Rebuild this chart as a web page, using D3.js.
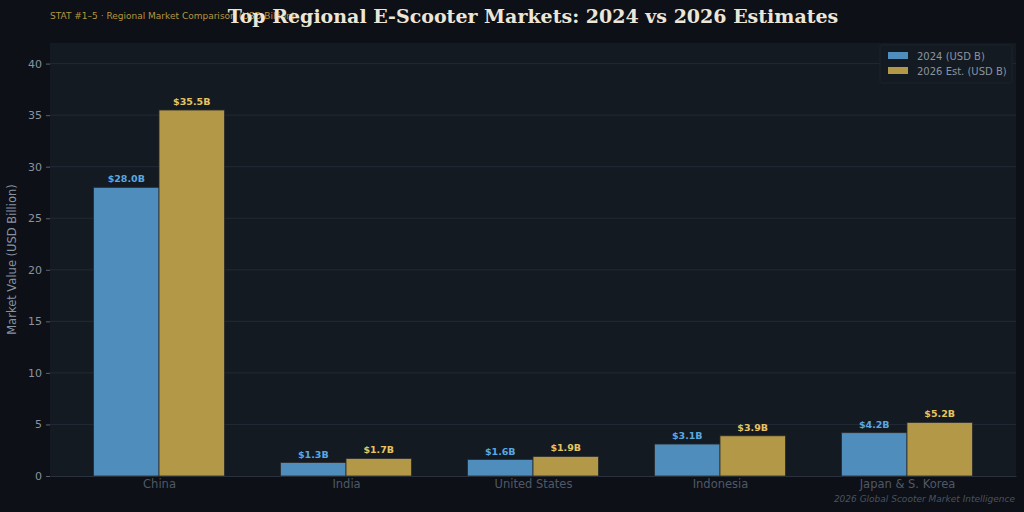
<!DOCTYPE html>
<html>
<head>
<meta charset="utf-8">
<script src="https://cdn.jsdelivr.net/npm/d3@7"></script>
<style>
  html, body { margin: 0; padding: 0; background: #0d1017; }
  svg { display: block; }
</style>
</head>
<body>
<script>
"use strict";
// chart data
const regions = ["China", "India", "United States", "Indonesia", "Japan & S. Korea"];
const values2024 = [28.0, 1.3, 1.6, 3.1, 4.2];
const values2026 = [35.5, 1.7, 1.9, 3.9, 5.2];
const seriesNames = ["2024 (USD B)", "2026 Est. (USD B)"];
const yTicks = [0, 5, 10, 15, 20, 25, 30, 35, 40];

const W = 1024, H = 512;
const plot = {left: 50, right: 1016, top: 43, bottom: 476};

const svg = d3.select("body").append("svg")
    .attr("width", W)
    .attr("height", H);

svg.append("rect").attr("width", W).attr("height", H).attr("fill", "#0d1017");
svg.append("rect")
    .attr("x", plot.left).attr("y", plot.top)
    .attr("width", plot.right - plot.left)
    .attr("height", plot.bottom - plot.top)
    .attr("fill", "#141a22");

let x = d3.scaleLinear().domain([-0.583, 4.583]).range([plot.left, plot.right]);
let y = d3.scaleLinear().domain([0, 42]).range([plot.bottom, plot.top]);
const barW = x(0.35) - x(0);

// grid
svg.append("g").selectAll("line")
    .data(yTicks.slice(1))
    .enter().append("line")
    .attr("x1", plot.left).attr("x2", plot.right)
    .attr("y1", d => y(d)).attr("y2", d => y(d))
    .attr("stroke", "#222a35").attr("stroke-width", 1);

// y axis
let yAxis = d3.axisLeft(y).tickValues(yTicks).tickSize(4).tickPadding(4);
let gy = svg.append("g").attr("transform", `translate(${plot.left},0)`).call(yAxis);
gy.select(".domain").remove();
gy.selectAll("line").attr("stroke", "#5a6270");
gy.selectAll("text").attr("fill", "#8a93a0")
    .style("font-family", "DejaVu Sans").style("font-size", "11px");

// x axis
let xAxis = d3.axisBottom(x).tickValues(d3.range(regions.length))
    .tickFormat(i => regions[i]).tickSize(0).tickPadding(4);
let gx = svg.append("g").attr("transform", `translate(0,${plot.bottom})`).call(xAxis);
gx.select(".domain").attr("stroke", "#2a313c");
gx.selectAll("text").attr("fill", "#505866")
    .style("font-family", "DejaVu Sans").style("font-size", "11.5px");

// bars
const series = [
  {vals: values2024, offset: -0.175, fill: "#4f8ebc", label: "#5aa8e0"},
  {vals: values2026, offset: 0.175, fill: "#b39848", label: "#e5c462"}
];
series.forEach(s => {
  let g = svg.append("g");
  g.selectAll("rect")
      .data(s.vals)
      .enter().append("rect")
      .attr("x", (d, i) => x(i + s.offset) - barW / 2)
      .attr("y", d => y(d))
      .attr("width", barW)
      .attr("height", d => y(0) - y(d))
      .attr("fill", s.fill)
      .attr("stroke", "#2a2a2a").attr("stroke-width", 0.8);
  g.selectAll("text")
      .data(s.vals)
      .enter().append("text")
      .attr("x", (d, i) => x(i + s.offset))
      .attr("y", d => y(d) - 5)
      .attr("text-anchor", "middle")
      .attr("fill", s.label)
      .style("font-family", "DejaVu Sans").style("font-size", "9.5px")
      .style("font-weight", "bold")
      .text(d => "$" + d.toFixed(1) + "B");
});

// y label
svg.append("text")
    .attr("transform", `translate(16,${(plot.top + plot.bottom) / 2}) rotate(-90)`)
    .attr("text-anchor", "middle")
    .attr("fill", "#8a93a0")
    .style("font-family", "DejaVu Sans").style("font-size", "11.5px")
    .text("Market Value (USD Billion)");

// legend
let legend = svg.append("g");
legend.append("rect").attr("x", 880).attr("y", 45).attr("width", 132).attr("height", 38)
    .attr("rx", 2).attr("fill", "#141a22").attr("stroke", "#1c222b");
seriesNames.forEach((n, i) => {
  legend.append("rect").attr("x", 888).attr("y", 52 + i * 15).attr("width", 20).attr("height", 7)
      .attr("fill", series[i].fill);
  legend.append("text").attr("x", 917).attr("y", 59.5 + i * 15)
      .attr("fill", "#8a93a0")
      .style("font-family", "DejaVu Sans").style("font-size", "10px")
      .text(n);
});

// titles
svg.append("text")
    .attr("x", 50).attr("y", 19)
    .attr("fill", "#b5953f")
    .style("font-family", "DejaVu Sans").style("font-size", "9px")
    .text("STAT #1–5 · Regional Market Comparison (USD Billion)");
svg.append("text")
    .attr("x", 533).attr("y", 23)
    .attr("text-anchor", "middle")
    .attr("fill", "#ece6d8")
    .style("font-family", "DejaVu Serif").style("font-size", "19px")
    .style("font-weight", "bold")
    .text("Top Regional E-Scooter Markets: 2024 vs 2026 Estimates");
svg.append("text")
    .attr("x", 1015).attr("y", 502)
    .attr("text-anchor", "end")
    .attr("fill", "#4a5260")
    .style("font-family", "DejaVu Sans").style("font-size", "9px")
    .style("font-style", "italic")
    .text("2026 Global Scooter Market Intelligence");
</script>
</body>
</html>
